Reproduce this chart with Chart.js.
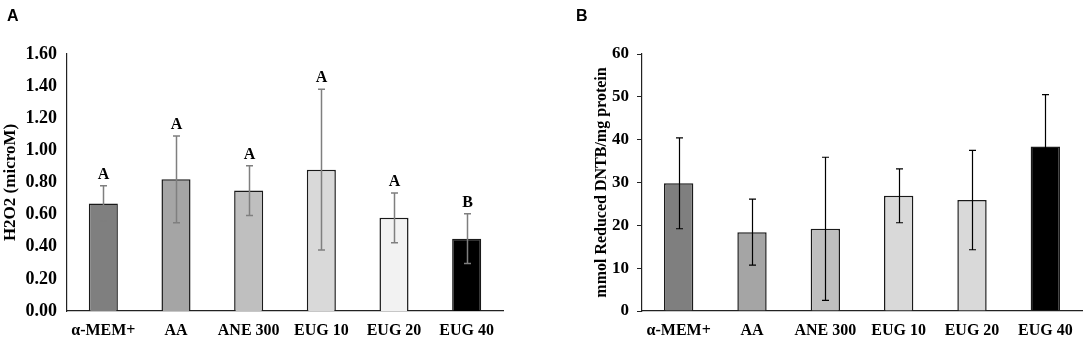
<!DOCTYPE html>
<html>
<head>
<meta charset="utf-8">
<script src="https://cdn.jsdelivr.net/npm/chart.js@4/dist/chart.umd.min.js"></script>
<style>
  html, body { margin: 0; padding: 0; background: #fff; }
  body { width: 1084px; height: 339px; position: relative; overflow: hidden; }
  .panel { position: absolute; top: 0; height: 339px; }
  .plabel { position: absolute; font-family: "Liberation Sans", Arial, sans-serif; font-weight: bold; font-size: 16px; }
</style>
</head>
<body>
<div class="panel" style="left:0;width:540px;"><canvas id="cA" width="540" height="339"></canvas></div>
<div class="panel" style="left:540px;width:544px;"><canvas id="cB" width="544" height="339"></canvas></div>
<div class="plabel" style="left:7px;top:7px;">A</div>
<div class="plabel" style="left:576px;top:7px;">B</div>
<script>
const categories = ["α-MEM+", "AA", "ANE 300", "EUG 10", "EUG 20", "EUG 40"];

const h2o2Values = [0.67, 0.82, 0.75, 0.88, 0.58, 0.45];
const h2o2Errors = [0.11, 0.27, 0.155, 0.50, 0.155, 0.155];
const h2o2Letters = ["A", "A", "A", "A", "A", "B"];
const h2o2Ticks = [0, 0.2, 0.4, 0.6, 0.8, 1.0, 1.2, 1.4, 1.6];

const dntbValues = [29.8, 18.4, 19.2, 26.9, 25.9, 38.4];
const dntbErrors = [10.6, 7.7, 16.7, 6.3, 11.6, 12.1];
const dntbTicks = [0, 10, 20, 30, 40, 50, 60];

const colorsA = ["#7f7f7f", "#a5a5a5", "#bfbfbf", "#d9d9d9", "#f2f2f2", "#000000"];
const colorsB = ["#7f7f7f", "#a5a5a5", "#bfbfbf", "#d9d9d9", "#d9d9d9", "#000000"];

const SERIF = '"Liberation Serif", "Times New Roman", serif';

const errorBarPlugin = {
  id: 'errorBars',
  afterDatasetsDraw(chart, args, opts) {
    const ctx = chart.ctx;
    const meta = chart.getDatasetMeta(0);
    const ys = chart.scales.y;
    const vals = chart.data.datasets[0].data;
    const errs = opts.errors;
    ctx.save();
    ctx.strokeStyle = opts.color;
    ctx.lineWidth = opts.width;
    meta.data.forEach((bar, i) => {
      const x = Math.round(bar.x) + 0.5;
      const yt = ys.getPixelForValue(vals[i] + errs[i]);
      const yb = ys.getPixelForValue(vals[i] - errs[i]);
      ctx.beginPath();
      ctx.moveTo(x, yt); ctx.lineTo(x, yb);
      ctx.moveTo(x - opts.cap, yt); ctx.lineTo(x + opts.cap, yt);
      ctx.moveTo(x - opts.cap, yb); ctx.lineTo(x + opts.cap, yb);
      ctx.stroke();
      if (opts.letters) {
        ctx.fillStyle = '#000';
        ctx.font = 'bold 16px ' + SERIF;
        ctx.textAlign = 'center';
        ctx.textBaseline = 'alphabetic';
        ctx.fillText(opts.letters[i], x, yt - 7);
      }
    });
    ctx.restore();
  }
};

function makeChart(id, values, errors, colors, ticks, title, opts) {
  return new Chart(document.getElementById(id), {
    type: 'bar',
    data: {
      labels: categories,
      datasets: [{
        data: values,
        backgroundColor: colors,
        borderColor: '#1a1a1a',
        borderWidth: 1.5,
        barPercentage: 0.4,
        categoryPercentage: 1.0
      }]
    },
    options: {
      responsive: false,
      animation: false,
      events: [],
      layout: { padding: { top: 54, left: opts.padLeft, right: opts.padRight, bottom: 0 } },
      plugins: {
        legend: { display: false },
        tooltip: { enabled: false },
        errorBars: { errors: errors, color: opts.errColor, width: opts.errWidth, cap: 3.5, letters: opts.letters }
      },
      scales: {
        x: {
          offset: true,
          grid: { display: false, drawTicks: false },
          border: { display: true, color: '#222', width: 1.2 },
          ticks: { color: '#000', padding: 10, font: { family: SERIF, weight: 'bold', size: opts.xFont }, maxRotation: 0, autoSkip: false },
          afterFit(s) { s.height = 28; }
        },
        y: {
          min: 0, max: ticks[ticks.length - 1],
          afterBuildTicks(s) { s.ticks = ticks.map(v => ({ value: v })); },
          grid: opts.yTicks ? { display: true, drawOnChartArea: false, drawTicks: true, tickLength: 5, color: '#222' } : { display: false, drawTicks: false },
          border: { display: true, color: '#222', width: 1.2 },
          ticks: {
            color: '#000', padding: opts.yPad,
            font: { family: SERIF, weight: 'bold', size: opts.yFont },
            callback: (v) => opts.decimals ? Number(v).toFixed(2) : String(v)
          },
          title: { display: true, text: title, color: '#000', padding: 0, font: { family: SERIF, weight: 'bold', size: opts.titleFont } },
          afterFit(s) { s.width = opts.yWidth; }
        }
      }
    },
    plugins: [errorBarPlugin]
  });
}

makeChart('cA', h2o2Values, h2o2Errors, colorsA, h2o2Ticks, 'H2O2 (microM)', {
  padLeft: 0, padRight: 37, yWidth: 67, yPad: 10, yTicks: false, decimals: true,
  yFont: 18, xFont: 16, titleFont: 17, errColor: '#7f7f7f', errWidth: 1.5, letters: h2o2Letters
});

makeChart('cB', dntbValues, dntbErrors, colorsB, dntbTicks, 'mmol Reduced DNTB/mg protein', {
  padLeft: 52, padRight: 2, yWidth: 50, yPad: 8, yTicks: true, decimals: false,
  yFont: 17, xFont: 16, titleFont: 16, errColor: '#000', errWidth: 1.2, letters: null
});
</script>
</body>
</html>
